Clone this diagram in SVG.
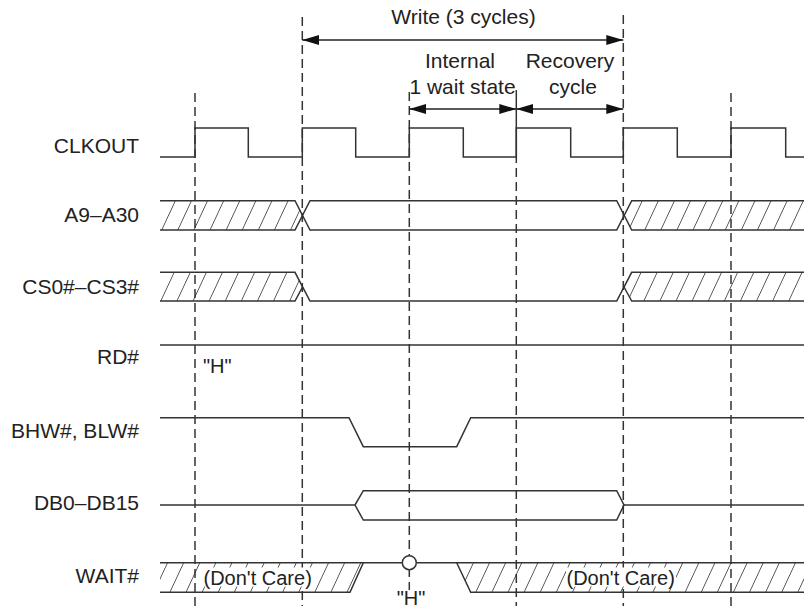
<svg xmlns="http://www.w3.org/2000/svg" width="804" height="609" viewBox="0 0 804 609">
<style>
  .lbl { font-family: "Liberation Sans", Arial, sans-serif; font-size: 21px; fill: #222; }
  .lblr { font-family: "Liberation Sans", Arial, sans-serif; font-size: 21px; fill: #222; text-anchor: end; }
  .note { font-family: "Liberation Sans", Arial, sans-serif; font-size: 20px; fill: #222; }
  .mid { text-anchor: middle; }
  .sig { fill: none; stroke: #333; stroke-width: 1.5; stroke-linejoin: miter; }
  .hat { fill: url(#hatch); stroke: none; }
  .grid { fill: none; stroke: #333; stroke-width: 1.5; stroke-dasharray: 9 5; }
  .solid { fill: none; stroke: #333; stroke-width: 1.5; }
  .arr { fill: none; stroke: #222; stroke-width: 1.5; marker-start: url(#ah); marker-end: url(#ah); }
</style>
<defs>
  <pattern id="hatch" patternUnits="userSpaceOnUse" width="16.1" height="100" patternTransform="skewX(-25) translate(10.9,0)">
    <line x1="0" y1="-10" x2="0" y2="110" stroke="#222" stroke-width="1.5"/>
  </pattern>
  <marker id="ah" markerUnits="userSpaceOnUse" markerWidth="18" markerHeight="12" refX="17" refY="5" orient="auto-start-reverse">
    <path d="M0,0 L17,5 L0,10 Z" fill="#111"/>
  </marker>
</defs>
<rect width="804" height="609" fill="#fff"/>

<g id="gridlines">
  <line class="grid" x1="195" y1="93" x2="195" y2="606"/>
  <line class="grid" x1="302.3" y1="17" x2="302.3" y2="606"/>
  <line class="grid" x1="409.3" y1="92" x2="409.3" y2="590"/>
  <line class="solid" x1="516.3" y1="90" x2="516.3" y2="163"/>
  <line class="grid" x1="516.3" y1="168" x2="516.3" y2="606"/>
  <line class="grid" x1="623.3" y1="15" x2="623.3" y2="606"/>
  <line class="grid" x1="731" y1="93" x2="731" y2="606"/>
</g>

<g id="connectors">
  <line class="arr" x1="302.3" y1="40" x2="623.3" y2="40"/>
  <line class="arr" x1="409.3" y1="109" x2="516.3" y2="109"/>
  <line class="arr" x1="516.3" y1="109" x2="623.3" y2="109"/>
</g>

<g id="annotations">
  <text class="lbl mid" x="463.5" y="24">Write (3 cycles)</text>
  <text class="lbl mid" x="460" y="68">Internal</text>
  <text class="lbl mid" x="462.5" y="94">1 wait state</text>
  <text class="lbl mid" x="570" y="68">Recovery</text>
  <text class="lbl mid" x="573" y="94">cycle</text>
</g>

<g id="clkout">
  <text class="lblr" x="139" y="152.5">CLKOUT</text>
  <path class="sig" d="M160,157 H195 V128 H248.3 V157 H302.3 V128 H355.7 V157 H409.3 V128 H463.3 V157 H516.3 V128 H570.7 V157 H623.3 V128 H677.3 V157 H731 V128 H785.7 V157 H804"/>
</g>

<g id="a9_a30">
  <text class="lblr" x="139" y="221.7">A9–A30</text>
  <polygon class="hat" points="160,200.7 295,200.7 302.5,215.4 295,230 160,230"/>
  <polygon class="hat" points="624,215.4 631.7,200.7 804,200.7 804,230 631.7,230"/>
  <path class="sig" d="M160,200.7 H295 L310,230 H616.7 L631.7,200.7 H804"/>
  <path class="sig" d="M160,230 H295 L310,200.7 H616.7 L631.7,230 H804"/>
</g>

<g id="cs0_cs3">
  <text class="lblr" x="139" y="294.3">CS0#–CS3#</text>
  <polygon class="hat" points="160,272.3 295,272.3 302.5,287 295,301 160,301"/>
  <polygon class="hat" points="624,287 631.7,272.3 804,272.3 804,301 631.7,301"/>
  <path class="sig" d="M160,272.3 H295 L310,301 H616.7 L631.7,272.3 H804"/>
  <path class="sig" d="M160,301 H295 L302.5,287"/>
  <path class="sig" d="M624,287 L631.7,301 H804"/>
</g>

<g id="rd">
  <text class="lblr" x="139" y="364.3">RD#</text>
  <line class="sig" x1="160" y1="345" x2="804" y2="345"/>
  <text class="note" x="203" y="372.7">"H"</text>
</g>

<g id="bhw_blw">
  <text class="lblr" x="139" y="438">BHW#, BLW#</text>
  <path class="sig" d="M160,417.7 H349 L363.3,446.7 H456.7 L470.7,417.7 H804"/>
</g>

<g id="db0_db15">
  <text class="lblr" x="139" y="510">DB0–DB15</text>
  <path class="sig" d="M160,505 H355 L363.3,490.7 H616.7 L624,505 L616.7,520 H363.3 L355,505"/>
  <line class="sig" x1="624" y1="505" x2="804" y2="505"/>
</g>

<g id="wait">
  <text class="lblr" x="139" y="583.3">WAIT#</text>
  <polygon class="hat" points="160,562.7 363.3,562.7 350,592.3 160,592.3"/>
  <polygon class="hat" points="456.7,562.7 804,562.7 804,592.3 470.7,592.3"/>
  <rect x="203" y="567.5" width="110" height="19" fill="#fff"/>
  <rect x="566" y="567.5" width="110" height="19" fill="#fff"/>
  <path class="sig" d="M160,562.7 H402.3"/>
  <path class="sig" d="M416.3,562.7 H804"/>
  <path class="sig" d="M160,592.3 H350 L363.3,562.7"/>
  <path class="sig" d="M456.7,562.7 L470.7,592.3 H804"/>
  <circle cx="409.3" cy="562.7" r="7" fill="#fff" stroke="#333" stroke-width="1.5"/>
  <text class="note" x="203.5" y="585">(Don't Care)</text>
  <text class="note" x="566.5" y="585">(Don't Care)</text>
  <text class="note mid" x="411" y="605">"H"</text>
</g>
</svg>
